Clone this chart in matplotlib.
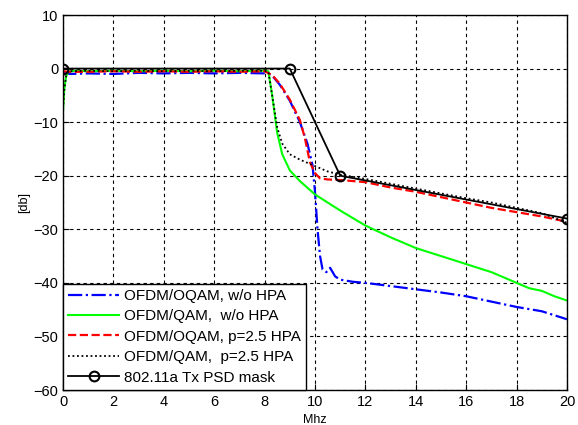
import matplotlib.pyplot as plt

plt.rcParams['font.family'] = ['Liberation Sans', 'DejaVu Sans']

# spectrum curves (MHz, dB)
oqam_x = [0, 0.1, 0.3, 1, 2, 3, 4, 5, 6, 7, 8, 8.3, 8.6, 9.0, 9.4, 9.7, 9.9, 10.0, 10.1, 10.2,
          10.3, 10.45, 10.6, 10.8, 11.0, 11.5, 12, 13, 14, 15, 16, 17, 18, 19, 20]
oqam_y = [-0.5, -0.9, -1.0, -0.9, -1.0, -0.8, -0.9, -0.8, -0.9, -0.8, -0.9, -1.3, -3, -6, -10, -14, -18,
          -23, -30, -35, -37.5, -38, -37.2, -38.8, -39.4, -39.8, -40, -40.6, -41.2, -41.8, -42.5,
          -43.5, -44.5, -45.3, -46.8]

qam_x = [0, 0.05, 0.12, 0.2, 0.5, 1, 2, 3, 4, 5, 6, 7, 8, 8.15, 8.3, 8.5, 8.7, 9.0, 9.4, 10,
         10.5, 11, 12, 13, 14, 15, 16, 17, 18, 18.5, 19, 19.5, 20]
qam_y = [-8, -4, -1.5, -0.6, -0.4, -0.5, -0.4, -0.5, -0.4, -0.5, -0.4, -0.5, -0.4, -0.5, -5, -12, -16,
         -19, -21, -23.5, -25, -26.5, -29.3, -31.5, -33.5, -35, -36.5, -38, -40, -41, -41.5, -42.5,
         -43.3]

oqam_hpa_x = [0, 0.2, 1, 2, 3, 4, 5, 6, 7, 8, 8.3, 8.6, 9.0, 9.4, 9.6, 9.8, 10.0, 10.2, 10.5, 11,
              12, 13, 14, 15, 16, 17, 18, 19, 20]
oqam_hpa_y = [-0.5, -0.6, -0.6, -0.5, -0.6, -0.5, -0.6, -0.5, -0.6, -0.5, -1.2, -2.8, -5.8, -9.6,
              -13, -17.5, -19.5, -20.5, -20.7, -20.8, -21.2, -22.2, -23.0, -24.0, -25.0, -26.0,
              -26.8, -27.6, -28.6]

qam_hpa_x = [0, 0.05, 0.12, 0.2, 1, 2, 3, 4, 5, 6, 7, 8, 8.15, 8.3, 8.5, 8.7, 9.0, 9.4, 9.9, 10.5,
             11, 12, 13, 14, 15, 16, 17, 18, 19, 20]
qam_hpa_y = [-7.5, -4, -1.5, -0.5, -0.4, -0.5, -0.4, -0.5, -0.4, -0.5, -0.4, -0.4, -0.6, -5, -11,
             -14, -16, -17, -18, -19.2, -19.8, -20.6, -21.5, -22.4, -23.3, -24.2, -25.0, -26.0,
             -27.0, -28.8]

mask_x = [0, 9, 11, 20]
mask_y = [0, 0, -20, -28]

labels = ['OFDM/OQAM, w/o HPA', 'OFDM/QAM,  w/o HPA', 'OFDM/OQAM, p=2.5 HPA',
          'OFDM/QAM,  p=2.5 HPA', '802.11a Tx PSD mask']

fig = plt.figure(figsize=(5.78, 4.25), dpi=100)
ax = fig.add_axes([63 / 578, 1 - 390 / 425, 504 / 578, 375 / 425])

ax.plot(oqam_x, oqam_y, color='#0000ff', ls='-.', lw=1.6, label=labels[0])
ax.plot(qam_x, qam_y, color='#00ff00', ls='-', lw=1.5, label=labels[1])
ax.plot(oqam_hpa_x, oqam_hpa_y, color='#ff0000', ls='--', lw=1.6, label=labels[2])
ax.plot(qam_hpa_x, qam_hpa_y, color='black', ls=(0, (1, 1.5)), lw=1.3, label=labels[3])
ax.plot(mask_x, mask_y, color='black', ls='-', lw=1.3, marker='o', ms=7,
        mfc='none', mew=1.5, label=labels[4])

ax.set_xlim(0, 20)
ax.set_ylim(-60, 10)
ax.set_xticks(range(0, 21, 2))
ax.set_yticks(range(-60, 11, 10))
ax.grid(True, color='black', ls=(0, (3, 3)), lw=0.8)
ax.tick_params(direction='in', labelsize=10.5, length=4)
for s in ax.spines.values():
    s.set_linewidth(1.0)

ax.set_xlabel('Mhz', fontsize=9)
ax.xaxis.set_label_coords(0.5, -0.065)
ax.set_ylabel('[db]', fontsize=9)
ax.yaxis.set_label_coords(-0.065, 0.5)

leg = ax.legend(loc='lower left', fontsize=11, handlelength=3.3, handletextpad=0.35,
                borderaxespad=0, fancybox=False, framealpha=1, edgecolor='black',
                labelspacing=0.42, borderpad=0.35)
leg.get_frame().set_linewidth(1.0)

fig.savefig('out.png', dpi=100)
